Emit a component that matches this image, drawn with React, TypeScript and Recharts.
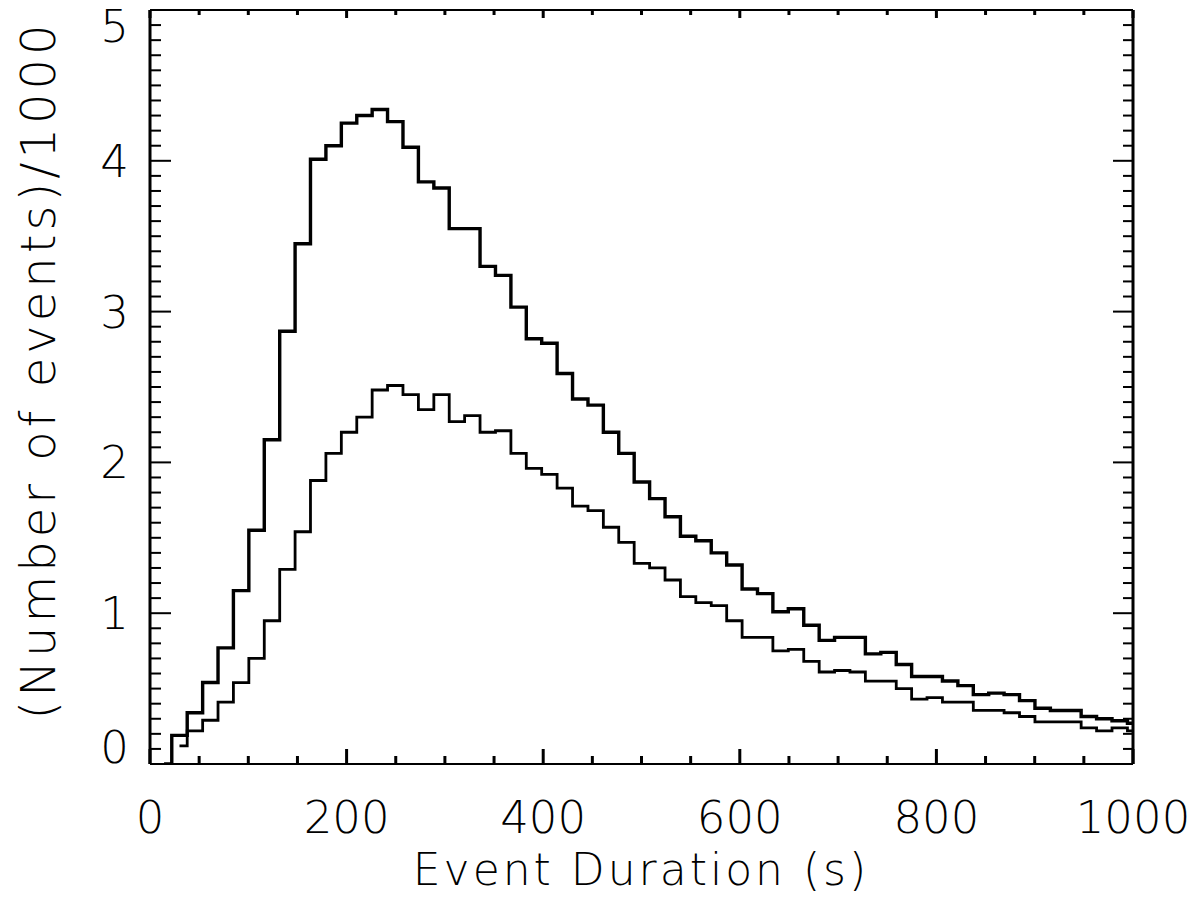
import { LineChart, Line, XAxis, YAxis } from "recharts"

// bin centres (s) of the histogram
const binCenters = [
  14.3, 30.0, 45.7, 61.4, 77.0, 92.7, 108.4, 124.1, 139.8, 155.4,
  171.1, 186.8, 202.5, 218.2, 233.8, 249.5, 265.2, 280.9, 296.6, 312.2,
  327.9, 343.6, 359.3, 375.0, 390.6, 406.3, 422.0, 437.7, 453.4, 469.0,
  484.7, 500.4, 516.1, 531.8, 547.4, 563.1, 578.8, 594.5, 610.2, 625.8,
  641.5, 657.2, 672.9, 688.6, 704.2, 719.9, 735.6, 751.3, 767.0, 782.6,
  798.3, 814.0, 829.7, 845.4, 861.0, 876.7, 892.4, 908.1, 923.8, 939.4,
  955.1, 970.8, 986.5, 1002.2,
]

// (number of events)/1000, upper histogram
const upperCounts = [
  0, 0.19, 0.34, 0.54, 0.77, 1.15, 1.55, 2.15, 2.87, 3.45,
  4.01, 4.1, 4.25, 4.3, 4.34, 4.26, 4.09, 3.86, 3.82, 3.55,
  3.55, 3.3, 3.24, 3.03, 2.82, 2.79, 2.59, 2.42, 2.38, 2.2,
  2.06, 1.87, 1.76, 1.64, 1.51, 1.48, 1.4, 1.32, 1.16, 1.13,
  1.01, 1.03, 0.92, 0.82, 0.84, 0.84, 0.73, 0.74, 0.66, 0.58,
  0.58, 0.55, 0.52, 0.46, 0.47, 0.46, 0.42, 0.37, 0.355, 0.355,
  0.315, 0.3, 0.287, 0.27,
]

// lower histogram
const lowerCounts = [
  null, 0.12, 0.22, 0.29, 0.41, 0.54, 0.7, 0.95, 1.29, 1.54,
  1.88, 2.06, 2.2, 2.3, 2.48, 2.51, 2.45, 2.35, 2.45, 2.27,
  2.31, 2.2, 2.21, 2.06, 1.96, 1.92, 1.83, 1.71, 1.68, 1.57,
  1.47, 1.33, 1.3, 1.22, 1.11, 1.07, 1.05, 0.95, 0.84, 0.84,
  0.75, 0.76, 0.68, 0.61, 0.62, 0.61, 0.55, 0.55, 0.5, 0.43,
  0.44, 0.41, 0.41, 0.355, 0.355, 0.34, 0.315, 0.28, 0.28, 0.28,
  0.24, 0.22, 0.24, 0.22,
]

const xMajorTicks = [0, 200, 400, 600, 800, 1000]
const yMajorTicks = [0, 1, 2, 3, 4, 5]

// minor ticks every 50 s and every 0.1
const xTicks = Array.from({ length: 21 }, (_, i) => i * 50)
const yTicks = Array.from({ length: 51 }, (_, i) => i / 10)

const data = binCenters.map((x, i) => ({
  x,
  upper: upperCounts[i],
  lower: lowerCounts[i],
}))

const FONT = "'DejaVu Sans', 'Liberation Sans', sans-serif"
const PLOT_TOP = 10
const PLOT_BOTTOM = 764

const isMajorX = (v: number) => xMajorTicks.includes(v)
const isMajorY = (v: number) => yMajorTicks.some((m) => Math.abs(m - v) < 1e-6)

function BottomTick(props: any) {
  const { x, y, payload } = props
  const major = isMajorX(payload.value)
  return (
    <g>
      <line x1={x} x2={x} y1={y} y2={y - (major ? 15 : 8)} stroke="#000" strokeWidth={3} />
      {major && (
        <text x={x} y={y + 69} textAnchor="middle" fontFamily={FONT} fontWeight={200} fontSize={45} fill="#000">
          {payload.value}
        </text>
      )}
    </g>
  )
}

function TopTick(props: any) {
  const { x, y, payload } = props
  const major = isMajorX(payload.value)
  return <line x1={x} x2={x} y1={y} y2={y + (major ? 8 : 5)} stroke="#000" strokeWidth={3} />
}

function LeftTick(props: any) {
  const { x, y, payload } = props
  const major = isMajorY(payload.value)
  const cy = Math.min(Math.max(y, PLOT_TOP + 16), PLOT_BOTTOM - 17)
  return (
    <g>
      <line x1={x} x2={x + (major ? 21 : 11)} y1={y} y2={y} stroke="#000" strokeWidth={2} />
      {major && (
        <text x={x - 21} y={cy + 16} textAnchor="end" fontFamily={FONT} fontWeight={200} fontSize={45} fill="#000">
          {Math.round(payload.value)}
        </text>
      )}
    </g>
  )
}

function RightTick(props: any) {
  const { x, y, payload } = props
  const major = isMajorY(payload.value)
  return <line x1={x} x2={x - (major ? 20 : 10)} y1={y} y2={y} stroke="#000" strokeWidth={2} />
}

export default function App() {
  return (
    <div style={{ position: "absolute", left: 0, top: 0, width: 1200, height: 897, background: "#fff" }}>
      <LineChart width={1200} height={897} data={data} margin={{ top: PLOT_TOP - 1, right: 66, bottom: 0, left: 0 }}>
        <XAxis
          dataKey="x"
          type="number"
          domain={[0, 1000]}
          allowDataOverflow
          ticks={xTicks}
          interval={0}
          height={133}
          tickSize={0}
          tickMargin={0}
          tickLine={false}
          axisLine={{ stroke: "#000", strokeWidth: 2 }}
          tick={<BottomTick />}
        />
        <XAxis
          xAxisId="top"
          orientation="top"
          dataKey="x"
          type="number"
          domain={[0, 1000]}
          allowDataOverflow
          ticks={xTicks}
          interval={0}
          height={1}
          tickSize={0}
          tickMargin={0}
          tickLine={false}
          axisLine={{ stroke: "#000", strokeWidth: 2 }}
          tick={<TopTick />}
        />
        <YAxis
          type="number"
          domain={[0, 5]}
          allowDataOverflow
          ticks={yTicks}
          interval={0}
          width={150}
          tickSize={0}
          tickMargin={0}
          tickLine={false}
          axisLine={{ stroke: "#000", strokeWidth: 3 }}
          tick={<LeftTick />}
        />
        <YAxis
          yAxisId="right"
          orientation="right"
          type="number"
          domain={[0, 5]}
          allowDataOverflow
          ticks={yTicks}
          interval={0}
          width={1}
          tickSize={0}
          tickMargin={0}
          tickLine={false}
          axisLine={{ stroke: "#000", strokeWidth: 3 }}
          tick={<RightTick />}
        />
        <Line
          type="step"
          dataKey="upper"
          stroke="#000"
          strokeWidth={3.4}
          dot={false}
          activeDot={false}
          isAnimationActive={false}
        />
        <Line
          type="step"
          dataKey="lower"
          stroke="#000"
          strokeWidth={2.8}
          dot={false}
          activeDot={false}
          isAnimationActive={false}
        />
        {/* invisible copy so the mirrored top/right axes get a scale */}
        <Line
          xAxisId="top"
          yAxisId="right"
          type="step"
          dataKey="upper"
          stroke="none"
          dot={false}
          activeDot={false}
          isAnimationActive={false}
        />
        <text x={641} y={885} textAnchor="middle" fontFamily={FONT} fontWeight={200} fontSize={44} letterSpacing={3} fill="#000">
          Event Duration (s)
        </text>
        <text
          x={55}
          y={370}
          transform="rotate(-90 55 370)"
          textAnchor="middle"
          fontFamily={FONT}
          fontWeight={200}
          fontSize={48}
          letterSpacing={4}
          fill="#000"
        >
          (Number of events)/1000
        </text>
      </LineChart>
    </div>
  )
}
